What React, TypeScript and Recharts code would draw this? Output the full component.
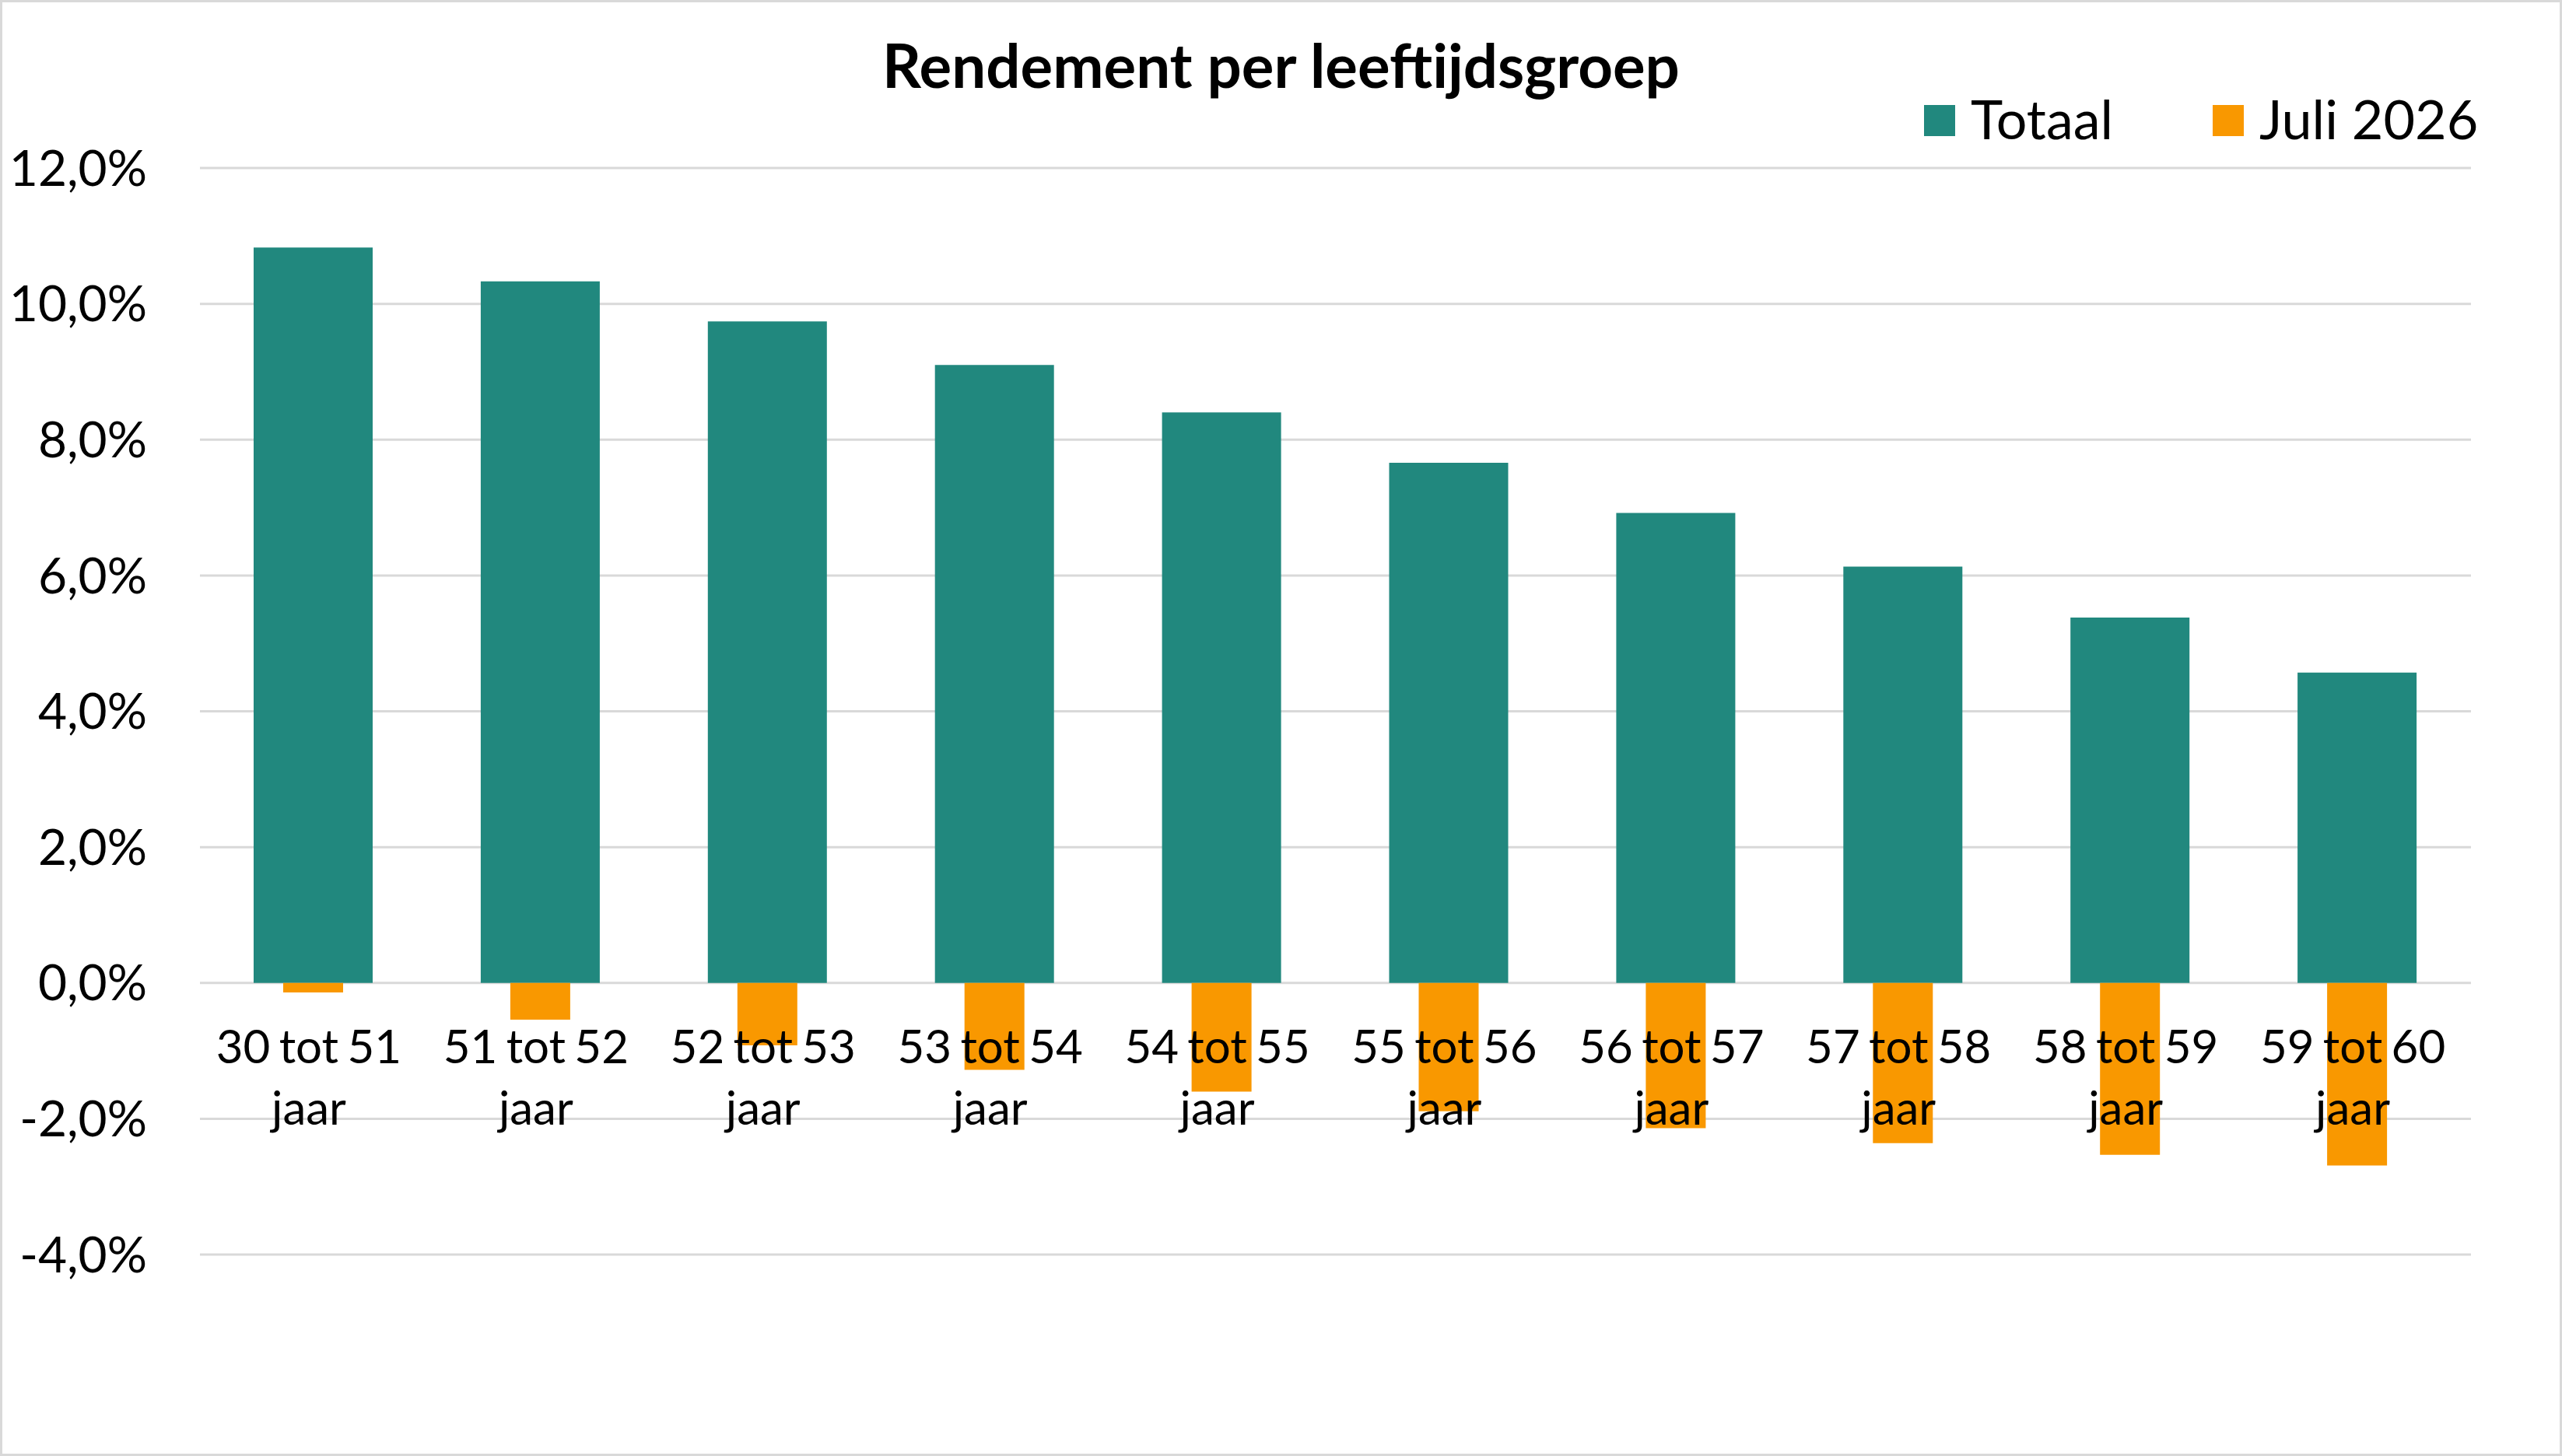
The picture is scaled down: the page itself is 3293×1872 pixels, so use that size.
import React from 'react';
import { BarChart, Bar, XAxis, YAxis, CartesianGrid, Legend } from 'recharts';

const categories = [
  '30 tot 51 jaar',
  '51 tot 52 jaar',
  '52 tot 53 jaar',
  '53 tot 54 jaar',
  '54 tot 55 jaar',
  '55 tot 56 jaar',
  '56 tot 57 jaar',
  '57 tot 58 jaar',
  '58 tot 59 jaar',
  '59 tot 60 jaar',
];
const totaal = [10.83, 10.33, 9.74, 9.10, 8.40, 7.66, 6.92, 6.13, 5.38, 4.57];
const juli2026 = [-0.14, -0.54, -0.92, -1.28, -1.60, -1.89, -2.14, -2.36, -2.53, -2.69];
const yTicks = [-4, -2, 0, 2, 4, 6, 8, 10, 12];
const seriesNames = ['Totaal', 'Juli 2026'];
const seriesColors = ['#21887E', '#F99800'];

const data = categories.map((cat, i) => ({ cat, totaal: totaal[i], juli: juli2026[i] }));

const FONT = 'Lato, "Open Sans", sans-serif';
const W = 3293;
const H = 1872;

const fmt = (v: number) => v.toFixed(1).replace('.', ',') + '%';

const XTick = (props: any) => {
  const { x, y, payload } = props;
  const s = String(payload.value);
  const idx = s.lastIndexOf(' ');
  const l1 = s.slice(0, idx);
  const l2 = s.slice(idx + 1);
  const cx = x - 6;
  return (
    <g>
      <text
        textAnchor="middle"
        fontFamily={FONT}
        fontSize={60}
        fill="#000"
        style={{ wordSpacing: '-4px' }}
      >
        <tspan x={cx} y={y - 246}>{l1}</tspan>
        <tspan x={cx} y={y - 167}>{l2}</tspan>
      </text>
    </g>
  );
};

const LegendContent = (props: any) => {
  const raw = props.payload || [];
  const payload = [...raw].sort(
    (a: any, b: any) => seriesNames.indexOf(a.value) - seriesNames.indexOf(b.value)
  );
  return (
    <div style={{ display: 'flex', flexDirection: 'row', alignItems: 'center', height: 80 }}>
      {payload.map((p: any, i: number) => (
        <div
          key={i}
          style={{ display: 'flex', alignItems: 'center', width: i === 0 ? 371 : 'auto' }}
        >
          <div style={{ width: 40, height: 40, background: p.color }} />
          <span
            style={{
              marginLeft: 20,
              fontFamily: FONT,
              fontSize: 70,
              lineHeight: '70px',
              color: '#000',
              position: 'relative',
              top: -3,
              whiteSpace: 'nowrap',
            }}
          >
            {p.value}
          </span>
        </div>
      ))}
    </div>
  );
};

export default function App() {
  return (
    <div style={{ position: 'fixed', left: 0, top: 0, width: W, height: H, background: '#fff' }}>
      <BarChart
        width={W}
        height={H}
        data={data}
        margin={{ top: 216, right: 117, bottom: 200, left: 0 }}
      >
        <CartesianGrid xAxisId="a" vertical={false} stroke="#D9D9D9" strokeWidth={3} />
        <YAxis
          type="number"
          domain={[-4, 12]}
          ticks={yTicks}
          tickFormatter={fmt}
          width={257}
          axisLine={false}
          tickLine={false}
          tickSize={0}
          tickMargin={68}
          interval={0}
          tick={{ fontFamily: FONT, fontSize: 64, fill: '#000' }}
        />
        <Bar
          xAxisId="a"
          dataKey="totaal"
          name={seriesNames[0]}
          fill={seriesColors[0]}
          barSize={153}
          isAnimationActive={false}
        />
        <Bar
          xAxisId="b"
          dataKey="juli"
          name={seriesNames[1]}
          fill={seriesColors[1]}
          barSize={77}
          isAnimationActive={false}
        />
        <XAxis xAxisId="b" dataKey="cat" hide />
        <XAxis
          xAxisId="a"
          dataKey="cat"
          height={59}
          axisLine={false}
          tickLine={false}
          tickSize={0}
          tickMargin={0}
          interval={0}
          tick={<XTick />}
        />
        <Legend
          layout="vertical"
          align="center"
          verticalAlign="middle"
          content={<LegendContent />}
          wrapperStyle={{ top: 115, left: 2473, width: 780, height: 80 }}
        />
      </BarChart>
      <div
        style={{
          position: 'absolute',
          left: 0,
          top: 44,
          width: W,
          textAlign: 'center',
          fontFamily: FONT,
          fontWeight: 700,
          fontSize: 78,
          lineHeight: '78px',
          color: '#000',
          pointerEvents: 'none',
        }}
      >
        Rendement per leeftijdsgroep
      </div>
      <div
        style={{
          position: 'absolute',
          left: 0,
          top: 0,
          width: W,
          height: H,
          boxSizing: 'border-box',
          border: '3px solid #D9D9D9',
          pointerEvents: 'none',
        }}
      />
    </div>
  );
}
